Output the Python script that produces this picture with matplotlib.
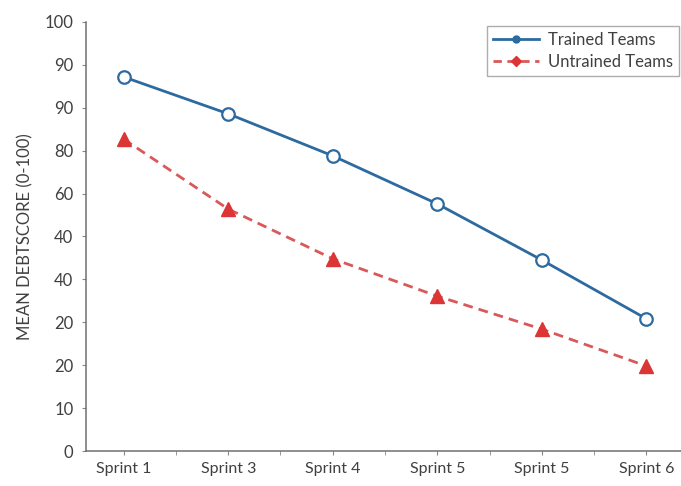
import matplotlib
matplotlib.use("Agg")
import matplotlib.pyplot as plt
from matplotlib.lines import Line2D
import numpy as np

plt.rcParams.update({"font.family": ["Lato", "DejaVu Sans"], "font.size": 10})

sprints = ["Sprint 1", "Sprint 3", "Sprint 4", "Sprint 5", "Sprint 5", "Sprint 6"]
trained = [87.2, 78.6, 68.8, 57.6, 44.5, 30.8]
untrained = [72.7, 56.4, 44.8, 36.1, 28.4, 19.8]
ytick_pos = [0, 10, 20, 30, 40, 50, 60, 70, 80, 90, 100]
ytick_labels = ["0", "10", "20", "20", "40", "40", "60", "80", "90", "90", "100"]

BLUE = "#2c6aa0"
RED = "#dc3535"
RED_LINE = "#d9585a"
TXT = "#404040"

fig = plt.figure(figsize=(6.81, 4.86), dpi=100)
ax = fig.add_axes([86 / 681, 35 / 486, 595 / 681, 429 / 486])

x = np.arange(len(sprints))
ax.plot(x, trained, color=BLUE, lw=2, marker="o", ms=9,
        mfc="white", mec=BLUE, mew=1.6, zorder=3)
ax.plot(x, untrained, color=RED_LINE, lw=2, ls=(0, (3.5, 2.2)), marker="^",
        ms=10, mfc=RED, mec=RED, zorder=3)

ax.set_xticks(x)
ax.set_xticklabels(sprints, color=TXT, fontsize=11.5)
ax.set_xticks(np.arange(0.5, 5.0, 1.0), minor=True)
ax.tick_params(axis="x", which="both", length=3, color="#888888", pad=5)
ax.set_yticks(ytick_pos)
ax.set_yticklabels(ytick_labels, color=TXT, fontsize=12)
ax.tick_params(axis="y", length=3, color="#888888", pad=6)
ax.set_xlim(-0.36, 5.33)
ax.set_ylim(0, 100)
ax.set_ylabel("MEAN DEBTSCORE (0-100)", color=TXT, fontsize=12, labelpad=8)

for s in ["top", "right"]:
    ax.spines[s].set_visible(False)
for s in ["left", "bottom"]:
    ax.spines[s].set_color("#707070")
    ax.spines[s].set_linewidth(1.1)

handles = [
    Line2D([], [], color=BLUE, lw=2, marker="o", ms=5, mfc=BLUE, mec=BLUE),
    Line2D([], [], color=RED_LINE, lw=2, ls=(0, (3, 2)), marker="D", ms=5,
           mfc=RED, mec=RED),
]
leg = ax.legend(handles, ["Trained Teams", "Untrained Teams"],
                loc="upper right", bbox_to_anchor=(1.01, 1.01), fontsize=12,
                frameon=True, fancybox=False, edgecolor="#999999",
                handlelength=2.8, borderpad=0.35, labelspacing=0.35,
                handletextpad=0.5)
for t in leg.get_texts():
    t.set_color(TXT)

fig.savefig("out.png", dpi=100)
